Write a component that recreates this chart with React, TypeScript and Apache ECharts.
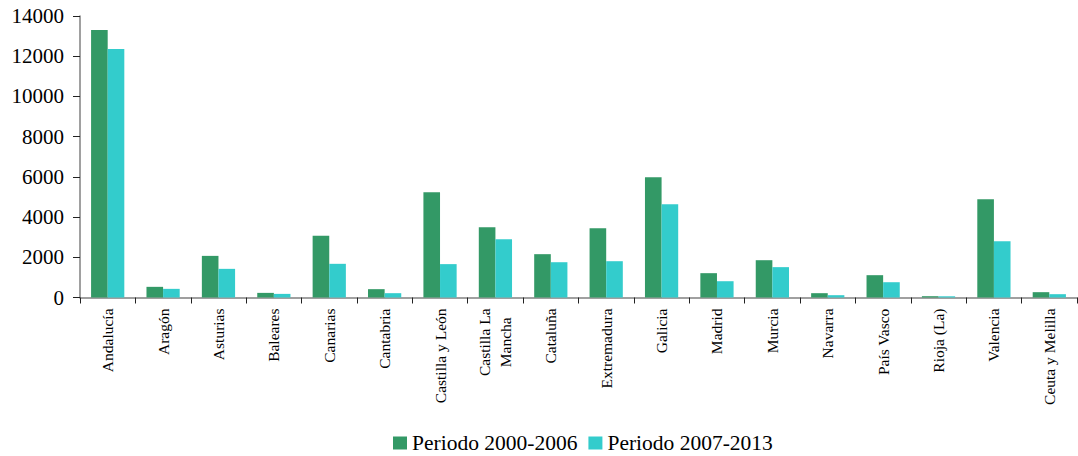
import React, { useEffect, useRef } from "react";
import * as echarts from "echarts";

const categories = [
  "Andalucía",
  "Aragón",
  "Asturias",
  "Baleares",
  "Canarias",
  "Cantabria",
  "Castilla y León",
  "Castilla La\nMancha",
  "Cataluña",
  "Extremadura",
  "Galicia",
  "Madrid",
  "Murcia",
  "Navarra",
  "País Vasco",
  "Rioja (La)",
  "Valencia",
  "Ceuta y Melilla",
];

const periodo2000_2006 = [13300, 530, 2070, 230, 3065, 415, 5235, 3495, 2155, 3445, 5980, 1210, 1855, 215, 1110, 65, 4885, 265];
const periodo2007_2013 = [12360, 430, 1425, 180, 1675, 215, 1660, 2900, 1755, 1805, 4640, 810, 1510, 115, 760, 60, 2800, 165];

const seriesNames = ["Periodo 2000-2006", "Periodo 2007-2013"];
const yTicks = { min: 0, max: 14000, interval: 2000 };

export default function App() {
  const ref = useRef<HTMLDivElement>(null);
  useEffect(() => {
    document.body.style.margin = "0";
    const chart = echarts.init(ref.current!, null, { renderer: "svg" });
    const font = "Liberation Serif, Times New Roman, Times, serif";
    chart.setOption({
      animation: false,
      textStyle: { fontFamily: font, color: "#000" },
      grid: { left: 80, right: 1, top: 16, bottom: 158.5, containLabel: false },
      legend: {
        top: 427,
        left: 388,
        itemWidth: 14,
        itemHeight: 13,
        itemGap: 11,
        icon: "rect",
        textStyle: { fontFamily: font, fontSize: 21.5, color: "#000" },
        data: seriesNames,
      },
      xAxis: {
        type: "category",
        data: categories,
        boundaryGap: true,
        axisLine: { lineStyle: { color: "#808080", width: 1.5 } },
        axisTick: { show: true, length: 6, lineStyle: { color: "#222" }, alignWithLabel: false },
        axisLabel: {
          interval: 0,
          rotate: 90,
          margin: 11,
          fontFamily: font,
          fontSize: 15.5,
          color: "#000",
          formatter: (v: string) => v.split("\n").map((s) => `{c|${s}}`).join("\n"),
          rich: { c: { align: "center", fontFamily: font, fontSize: 15.5, lineHeight: 21, color: "#000" } },
        },
      },
      yAxis: {
        type: "value",
        min: yTicks.min,
        max: yTicks.max,
        interval: yTicks.interval,
        splitLine: { show: false },
        axisLine: { show: true, lineStyle: { color: "#808080", width: 1.5 } },
        axisTick: { show: true, length: 7, lineStyle: { color: "#222" } },
        axisLabel: { fontFamily: font, fontSize: 21, color: "#000", margin: 16, formatter: (v: number) => String(v) },
      },
      series: [
        {
          name: seriesNames[0],
          type: "bar",
          data: periodo2000_2006,
          barGap: "0%",
          barCategoryGap: "40%",
          itemStyle: { color: "#339966" },
        },
        {
          name: seriesNames[1],
          type: "bar",
          data: periodo2007_2013,
          barGap: "0%",
          barCategoryGap: "40%",
          itemStyle: { color: "#33CCCC" },
        },
      ],
    });
    return () => chart.dispose();
  }, []);
  return <div ref={ref} style={{ width: 1078, height: 456 }} />;
}
